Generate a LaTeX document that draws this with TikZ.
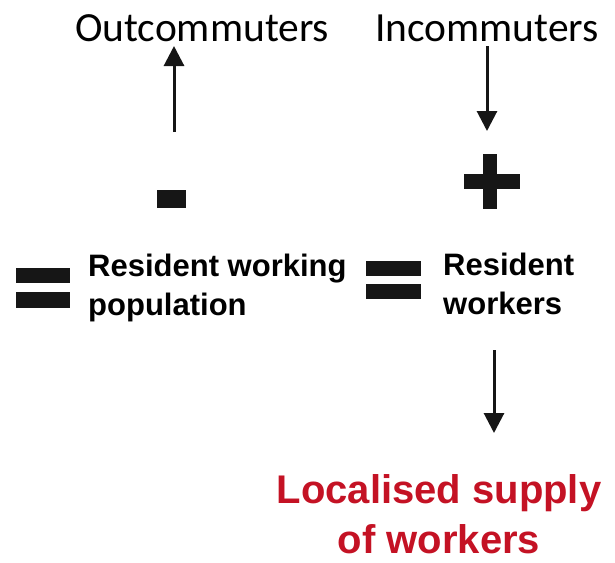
\documentclass[tikz,border=0pt]{standalone}
\usepackage{fontspec}
\setmainfont{Liberation Sans}
\newfontfamily\labelfont{Carlito}
\usetikzlibrary{arrows.meta}
\definecolor{supplyred}{RGB}{196,18,36}
\definecolor{ink}{RGB}{22,22,22}
\begin{document}
\begin{tikzpicture}[x=1pt,y=-1pt,
  flow/.style={line width=3pt, draw=ink, -{Triangle[width=20pt,length=20pt]}},
  topword/.style={font=\labelfont\fontsize{41.5}{48}\selectfont, inner sep=0, anchor=base west},
  term/.style={font=\bfseries\fontsize{31}{39}\selectfont, align=left, inner sep=0, anchor=base west},
  bar/.style={rectangle, fill=ink, draw=none, inner sep=0},
]
\useasboundingbox (0,0) rectangle (615,562);

% flows across the boundary
\node[topword] (out) at (75,41) {Outcommuters};
\node[topword] (in) at (375,41) {Incommuters};
\coordinate (outfoot) at (174,132);
\coordinate (outtip) at (174,46);
\coordinate (intail) at (487,46);
\coordinate (intip) at (487,131);
\draw[flow] (outfoot) -- (outtip);
\draw[flow] (intail) -- (intip);

% minus and plus signs
\node[bar, minimum width=29pt, minimum height=18pt] (minus) at (171,198.5) {};
\node[bar, minimum width=14pt, minimum height=55pt] (plusv) at (490,181.5) {};
\node[bar, minimum width=56pt, minimum height=15pt] (plush) at (492,181.5) {};

% equals signs
\node[bar, minimum width=54pt, minimum height=15pt] (eqAtop) at (43,275.5) {};
\node[bar, minimum width=54pt, minimum height=16pt] (eqAbot) at (43,300) {};
\node[bar, minimum width=55pt, minimum height=15pt] (eqBtop) at (393.5,268.5) {};
\node[bar, minimum width=55pt, minimum height=15pt] (eqBbot) at (393.5,291.5) {};

% terms of the balance (base anchor sits on the last line)
\node[term] (rwp) at (88,315) {Resident working\\population};
\node[term] (rw) at (443,314) {Resident\\workers};

% result
\coordinate (supplytail) at (494,350);
\coordinate (supplytip) at (494,433);
\draw[flow] (supplytail) -- (supplytip);
\node[font=\bfseries\fontsize{40}{50}\selectfont, text=supplyred, align=center, inner sep=0, anchor=base]
  (supply) at (439,553) {Localised supply\\of workers};
\end{tikzpicture}
\end{document}
